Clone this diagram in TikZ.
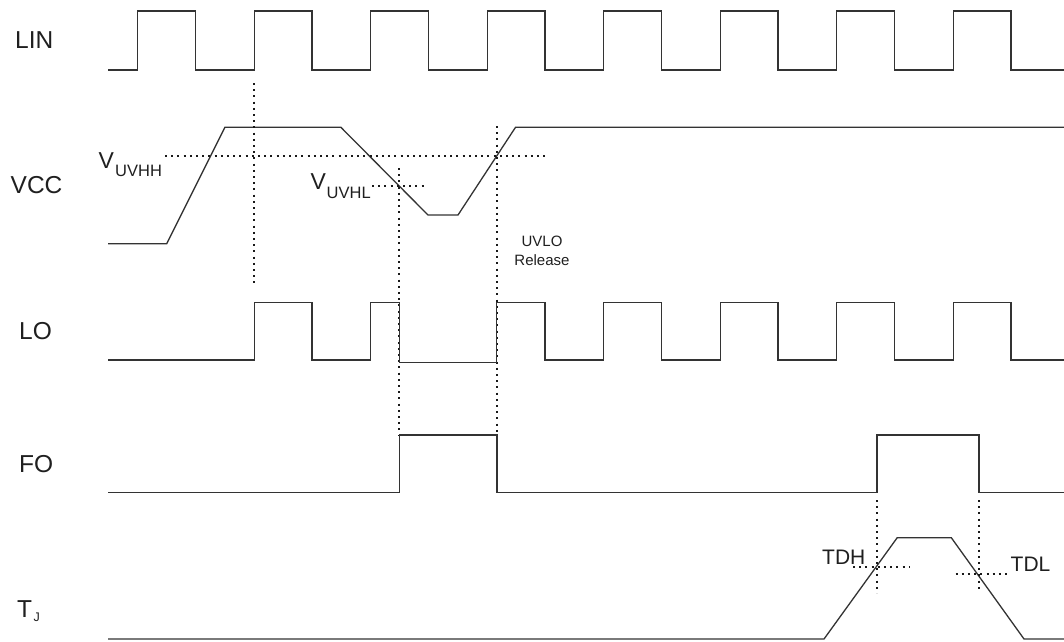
\documentclass[tikz,border=0pt]{standalone}
\usepackage{fontspec}
\setmainfont{Liberation Sans}
\begin{document}
\begin{tikzpicture}[x=1pt,y=-1pt,
  wave/.style={line width=1.3pt, black!80, line join=miter},
  guide/.style={line width=2pt, black!90, dash pattern=on 2pt off 4.2pt},
  lbl/.style={inner sep=0pt, anchor=base west, text=black!88},
  big/.style={lbl, font=\fontsize{24.5}{28}\selectfont},
  mid/.style={lbl, font=\fontsize{21}{24}\selectfont},
  vsym/.style={lbl, font=\fontsize{23}{26}\selectfont},
  vsub/.style={lbl, font=\fontsize{16.5}{19}\selectfont},
  note/.style={inner sep=0pt, anchor=base, text=black!88, font=\fontsize{15}{18}\selectfont}]
\useasboundingbox (0,0) rectangle (1064,641);

% ---- signal names
\node[big] (lin) at (15,48) {LIN};
\node[big] (vcc) at (10.5,193) {VCC};
\node[big] (lo) at (19,339.5) {LO};
\node[big] (fo) at (19,472) {FO};
\node[big] (tj) at (17,617) {T};
\node[lbl, font=\fontsize{12.5}{14}\selectfont] (tjs) at (33.5,621.5) {J};

% ---- LIN
\draw[wave] (108,70)
  \foreach \k in {0,...,7}{ -- ({137.7+116.5*\k},70) -- ({137.7+116.5*\k},11)
     -- ({195.4+116.5*\k},11) -- ({195.4+116.5*\k},70)} -- (1064,70);

% ---- VCC
\coordinate (v0) at (108,243.7);
\coordinate (v1) at (166.7,243.7);
\coordinate (v2) at (224.9,127.3);
\coordinate (v3) at (340.9,127.3);
\coordinate (v4) at (428,215);
\coordinate (v5) at (458,215);
\coordinate (v6) at (515.5,127.3);
\coordinate (v7) at (1064,127.3);
\draw[wave] (v0) -- (v1) -- (v2) -- (v3) -- (v4) -- (v5) -- (v6) -- (v7);

% thresholds
\coordinate (hh1) at (165,156);
\coordinate (hh2) at (546,156);
\draw[guide] (hh1) -- (hh2);
\coordinate (hl1) at (372,186);
\coordinate (hl2) at (426,186);
\draw[guide] (hl1) -- (hl2);
\node[vsym] (vh) at (98.5,168) {V};
\node[vsub] (vhs) at (115,176) {UVHH};
\node[vsym] (vl) at (310.5,189) {V};
\node[vsub] (vls) at (326.5,198.5) {UVHL};

\node[note] (uvlo) at (542,246) {UVLO};
\node[note] (rel) at (542,265) {Release};

% ---- vertical guides
\coordinate (g1t) at (254,83);
\coordinate (g1b) at (254,285);
\draw[guide] (g1t) -- (g1b);
\coordinate (g2t) at (399.4,168);
\coordinate (g2b) at (399.4,436);
\draw[guide] (g2t) -- (g2b);
\coordinate (g3t) at (496.5,126);
\coordinate (g3b) at (496.5,436);
\draw[guide] (g3t) -- (g3b);

% ---- LO
\draw[wave] (108,360) -- (254.2,360) -- (254.2,302.7) -- (311.9,302.7) -- (311.9,360)
  -- (370.7,360) -- (370.7,302.7) -- (399.4,302.7) -- (399.4,362.3) -- (496.5,362.3)
  -- (496.5,302.7) -- (544.9,302.7) -- (544.9,360)
  \foreach \k in {4,...,7}{ -- ({137.7+116.5*\k},360) -- ({137.7+116.5*\k},302.7)
     -- ({195.4+116.5*\k},302.7) -- ({195.4+116.5*\k},360)} -- (1064,360);

% ---- FO
\draw[wave] (108,492.3) -- (399.4,492.3) -- (399.4,435) -- (496.9,435) -- (496.9,492.3)
  -- (877,492.3) -- (877,435) -- (979,435) -- (979,492.3) -- (1064,492.3);

% ---- TJ
\coordinate (t0) at (108,639);
\coordinate (t1) at (824,639);
\coordinate (t2) at (897.2,537.7);
\coordinate (t3) at (951.3,537.7);
\coordinate (t4) at (1024,639);
\coordinate (t5) at (1064,639);
\draw[wave] (t0) -- (t1) -- (t2) -- (t3) -- (t4) -- (t5);

\coordinate (dh1) at (876.5,500);
\coordinate (dh2) at (876.5,593);
\draw[guide] (dh1) -- (dh2);
\coordinate (dh3) at (853,567.3);
\coordinate (dh4) at (909,567.3);
\draw[guide] (dh3) -- (dh4);
\coordinate (dl1) at (979,500);
\coordinate (dl2) at (979,592);
\draw[guide] (dl1) -- (dl2);
\coordinate (dl3) at (955.5,574.3);
\coordinate (dl4) at (1010,574.3);
\draw[guide] (dl3) -- (dl4);
\node[mid] (tdh) at (822,564) {TDH};
\node[mid] (tdl) at (1010.5,571) {TDL};
\end{tikzpicture}
\end{document}
